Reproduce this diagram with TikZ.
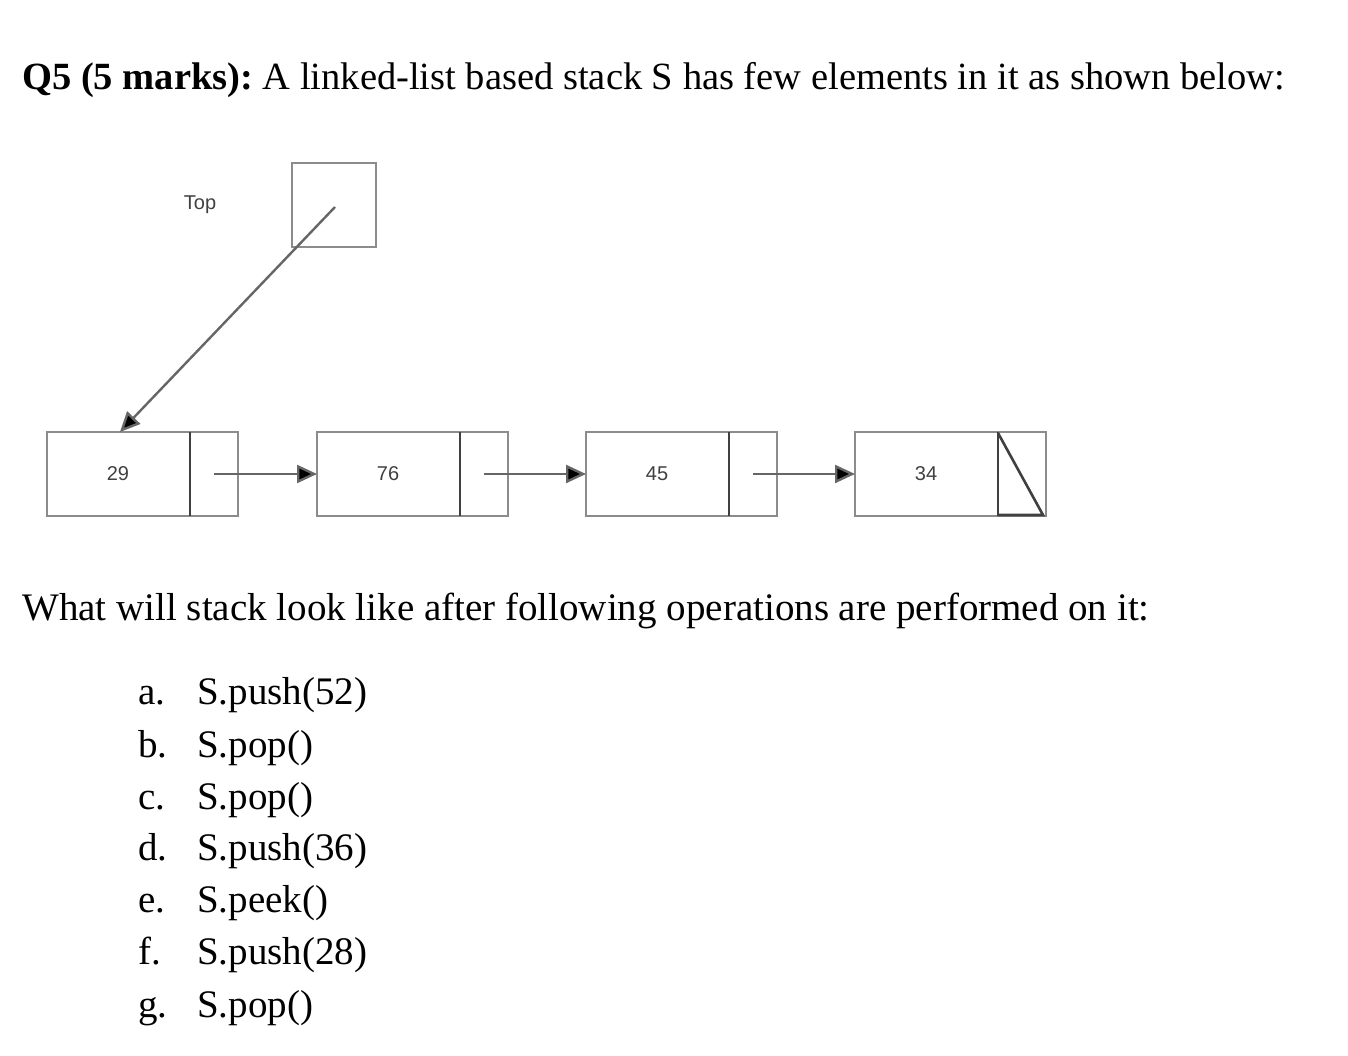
\documentclass[tikz,border=0pt]{standalone}
\usepackage{fontspec}
\setmainfont{Liberation Serif}
\newfontfamily\smallsans{Liberation Sans}
\usetikzlibrary{arrows.meta}
\begin{document}
\begin{tikzpicture}[x=1pt,y=-1pt,
  cell/.style={draw=black!45,line width=2pt},
  divider/.style={draw=black!75,line width=2.6pt},
  ptr/.style={draw=black!60,line width=2.4pt,-{Triangle[length=20pt,width=18pt,fill=black]}},
  val/.style={font=\smallsans\fontsize{20}{20}\selectfont,text=black!75},
  txt/.style={font=\fontsize{39}{42}\selectfont,anchor=base west,inner sep=0pt}]
\useasboundingbox (0,0) rectangle (1348,1056);
\node[txt,font=\fontsize{38.5}{42}\selectfont] (title) at (22,90) {\textbf{Q5 (5 marks):}\ A linked-list based stack S has few elements in it as shown below:};
% top pointer
\node[val] (toplab) at (200,205) {Top};
\draw[cell] (292,163) rectangle (376,247);
\coordinate (tp) at (335,207);
% nodes
\foreach \n/\x/\v in {a/47/29,b/317/76,c/586/45,d/855/34}{
  \draw[cell] (\x,432) rectangle (\x+191,516);
  \draw[divider] (\x+143,432) -- (\x+143,516);
  \node[val] (\n) at (\x+71,474) {\v};
  \coordinate (\n L) at (\x,474);
  \coordinate (\n P) at (\x+167,474);
}
\draw[ptr] (aP) -- (bL);
\draw[ptr] (bP) -- (cL);
\draw[ptr] (cP) -- (dL);
\draw[divider] (998,433) -- (1043,515) -- (998,515);
\coordinate (aT) at (120,432);
\draw[ptr] (tp) -- (aT);
\node[txt] (q) at (22,620) {What will stack look like after following operations are performed on it:};
\foreach \l/\t/\y in {a./S.push(52)/704,b./S.pop()/757,c./S.pop()/809,d./S.push(36)/860,e./S.peek()/912,f./S.push(28)/964,g./S.pop()/1017}{
  \node[txt] (l\l) at (138,\y) {\l};
  \node[txt] (t\l) at (197,\y) {\t};
}
\end{tikzpicture}
\end{document}
